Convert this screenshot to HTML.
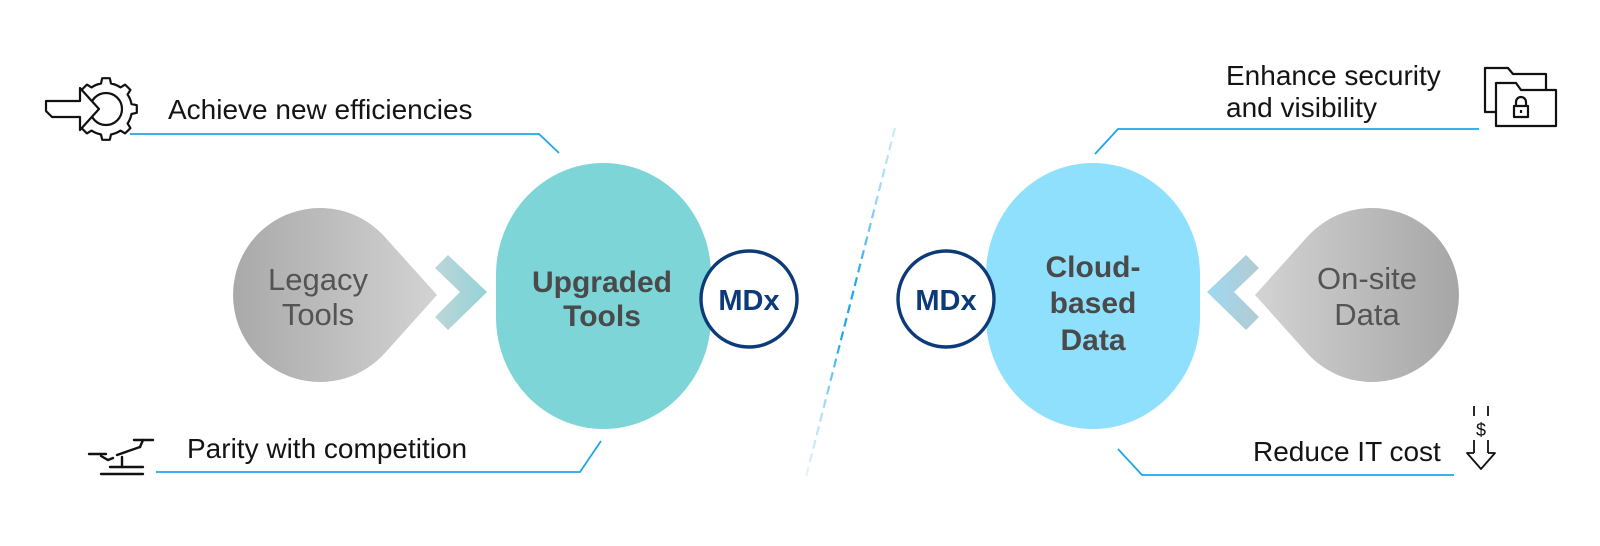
<!DOCTYPE html>
<html>
<head>
<meta charset="utf-8">
<style>
  html,body{margin:0;padding:0;background:#ffffff;}
  body{width:1600px;height:546px;overflow:hidden;}
  svg{display:block;}
  .lbl{font-family:"Liberation Sans",sans-serif;font-size:28px;fill:#141414;}
  .gry{font-family:"Liberation Sans",sans-serif;font-size:31px;fill:#545454;}
  .bld{font-family:"Liberation Sans",sans-serif;font-size:30px;font-weight:bold;fill:#4a4a4a;}
  .mdx{font-family:"Liberation Sans",sans-serif;font-size:29px;font-weight:bold;fill:#0d3a78;}
</style>
</head>
<body>
<svg width="1600" height="546" viewBox="0 0 1600 546" xmlns="http://www.w3.org/2000/svg">
  <defs>
    <linearGradient id="gLeg" x1="0" y1="0" x2="1" y2="0">
      <stop offset="0" stop-color="#a9a9a9"/>
      <stop offset="1" stop-color="#d3d3d3"/>
    </linearGradient>
    <linearGradient id="gOn" x1="0" y1="0" x2="1" y2="0">
      <stop offset="0" stop-color="#d3d3d3"/>
      <stop offset="1" stop-color="#a6a6a6"/>
    </linearGradient>
    <linearGradient id="gChL" x1="0" y1="0" x2="1" y2="0">
      <stop offset="0" stop-color="#bdd6d9"/>
      <stop offset="1" stop-color="#94d3d7"/>
    </linearGradient>
    <linearGradient id="gChR" x1="0" y1="0" x2="1" y2="0">
      <stop offset="0" stop-color="#9dd9f1"/>
      <stop offset="1" stop-color="#b3cad2"/>
    </linearGradient>
    <linearGradient id="gDash" gradientUnits="userSpaceOnUse" x1="895" y1="128" x2="806" y2="477">
      <stop offset="0" stop-color="#cdebf9"/>
      <stop offset="0.2" stop-color="#9ad8f5"/>
      <stop offset="0.45" stop-color="#1ca8ec"/>
      <stop offset="0.6" stop-color="#1ca8ec"/>
      <stop offset="0.8" stop-color="#a9dcf3"/>
      <stop offset="1" stop-color="#e8f3f8"/>
    </linearGradient>
  </defs>

  <!-- dashed divider -->
  <line x1="895" y1="128" x2="806" y2="477" stroke="url(#gDash)" stroke-width="2.2" stroke-dasharray="9 5"/>

  <!-- connector lines -->
  <g fill="none" stroke="#1da6ea" stroke-width="1.8">
    <polyline points="130,134 539,134 559,153"/>
    <polyline points="156,472 580,472 601,441"/>
    <polyline points="1479,129 1118,129 1095,154"/>
    <polyline points="1118,449 1142,475 1454,475"/>
  </g>

  <!-- Legacy drop -->
  <path d="M437 295 L384.7 353.2 A87 87 0 1 1 384.7 236.8 Z" fill="url(#gLeg)"/>
  <text class="gry" x="318" y="290" text-anchor="middle">Legacy</text>
  <text class="gry" x="318" y="325" text-anchor="middle">Tools</text>

  <!-- left chevron -->
  <polygon points="435,268 448,255 487,292 448,330 435,317 460,292" fill="url(#gChL)"/>

  <!-- Upgraded pill -->
  <rect x="496" y="163" width="215" height="266" rx="107.5" ry="112" fill="#7dd5d7"/>
  <text class="bld" x="602" y="292" text-anchor="middle">Upgraded</text>
  <text class="bld" x="602" y="326" text-anchor="middle">Tools</text>

  <!-- MDx left -->
  <circle cx="749" cy="299" r="48" fill="#ffffff" stroke="#0d3a78" stroke-width="3.4"/>
  <text class="mdx" x="749" y="310" text-anchor="middle">MDx</text>

  <!-- Cloud pill + MDx right -->
  <rect x="986" y="163" width="214" height="266" rx="107" ry="112" fill="#8fe0fd"/>
  <circle cx="946" cy="299" r="48" fill="#ffffff" stroke="#0d3a78" stroke-width="3.4"/>
  <text class="mdx" x="946" y="310" text-anchor="middle">MDx</text>
  <text class="bld" x="1093" y="277" text-anchor="middle">Cloud-</text>
  <text class="bld" x="1093" y="313" text-anchor="middle">based</text>
  <text class="bld" x="1093" y="350" text-anchor="middle">Data</text>

  <!-- right chevron -->
  <polygon points="1259,268 1246,255 1207,292 1246,330 1259,317 1234,292" fill="url(#gChR)"/>

  <!-- On-site drop -->
  <path d="M1255 295 L1307.3 236.8 A87 87 0 1 1 1307.3 353.2 Z" fill="url(#gOn)"/>
  <text class="gry" x="1367" y="289" text-anchor="middle">On-site</text>
  <text class="gry" x="1367" y="325" text-anchor="middle">Data</text>

  <!-- labels -->
  <text class="lbl" x="168" y="119">Achieve new efficiencies</text>
  <text class="lbl" x="187" y="458">Parity with competition</text>
  <text class="lbl" x="1226" y="85">Enhance security</text>
  <text class="lbl" x="1226" y="117">and visibility</text>
  <text class="lbl" x="1253" y="461">Reduce IT cost</text>

  <!-- gear icon -->
  <g fill="none" stroke="#111" stroke-width="2.2" stroke-linejoin="round">
    <path d="M131.5,104 L136.8,105.2 L136.8,112.8 L131.5,114 A26,26 0 0 1 127.6,123.5 L130.4,128.1 L125.1,133.4 L120.5,130.6 A26,26 0 0 1 111,134.5 L109.8,139.8 L102.2,139.8 L101,134.5 A26,26 0 0 1 91.5,130.6 L86.9,133.4 L81.6,128.1 L84.4,123.5 A26,26 0 0 1 80.5,114 L75.2,112.8 L75.2,105.2 L80.5,104 A26,26 0 0 1 84.4,94.5 L81.6,89.9 L86.9,84.6 L91.5,87.4 A26,26 0 0 1 101,83.5 L102.2,78.2 L109.8,78.2 L111,83.5 A26,26 0 0 1 120.5,87.4 L125.1,84.6 L130.4,89.9 L127.6,94.5 A26,26 0 0 1 131.5,104 Z"/>
    <circle cx="106" cy="109" r="16"/>
    <polygon points="46,101 80,101 80,88 99,109 80,130 80,117 52,117 46,111" fill="#ffffff"/>
  </g>

  <!-- seesaw icon -->
  <g fill="none" stroke="#111" stroke-width="2.4" stroke-linecap="round">
    <line x1="134" y1="440" x2="153" y2="440"/>
    <line x1="143" y1="440" x2="140" y2="447"/>
    <line x1="140" y1="447" x2="117" y2="455"/>
    <line x1="89" y1="454" x2="106" y2="454"/>
    <polyline points="101,456 108,460 113,458"/>
    <line x1="122" y1="457" x2="122" y2="467"/>
    <line x1="110" y1="467" x2="143" y2="467"/>
    <line x1="101" y1="474" x2="143" y2="474"/>
  </g>

  <!-- folder lock icon -->
  <g fill="#ffffff" stroke="#111" stroke-width="2.2" stroke-linejoin="round">
    <path d="M1485,112 L1485,68 L1508,68 L1513,74 L1546,74 L1546,112 Z"/>
    <path d="M1496,126 L1496,83 L1516,83 L1521,90 L1556,90 L1556,126 Z"/>
    <path d="M1516,106 L1516,102 A5,5 0 0 1 1526,102 L1526,106" fill="none"/>
    <rect x="1514" y="106" width="14" height="11" fill="#ffffff"/>
    <line x1="1521" y1="110" x2="1521" y2="113"/>
  </g>

  <!-- dollar down icon -->
  <g fill="none" stroke="#111" stroke-width="1.8" stroke-linejoin="round">
    <line x1="1474" y1="406" x2="1474" y2="416"/>
    <line x1="1488" y1="406" x2="1488" y2="416"/>
    <line x1="1474" y1="440" x2="1474" y2="453"/>
    <line x1="1488" y1="440" x2="1488" y2="453"/>
    <polyline points="1474,453 1467,453 1481,469 1495,453 1488,453"/>
  </g>
  <text x="1481" y="436" text-anchor="middle" font-family="Liberation Sans, sans-serif" font-size="18" fill="#111">$</text>
</svg>
</body>
</html>
